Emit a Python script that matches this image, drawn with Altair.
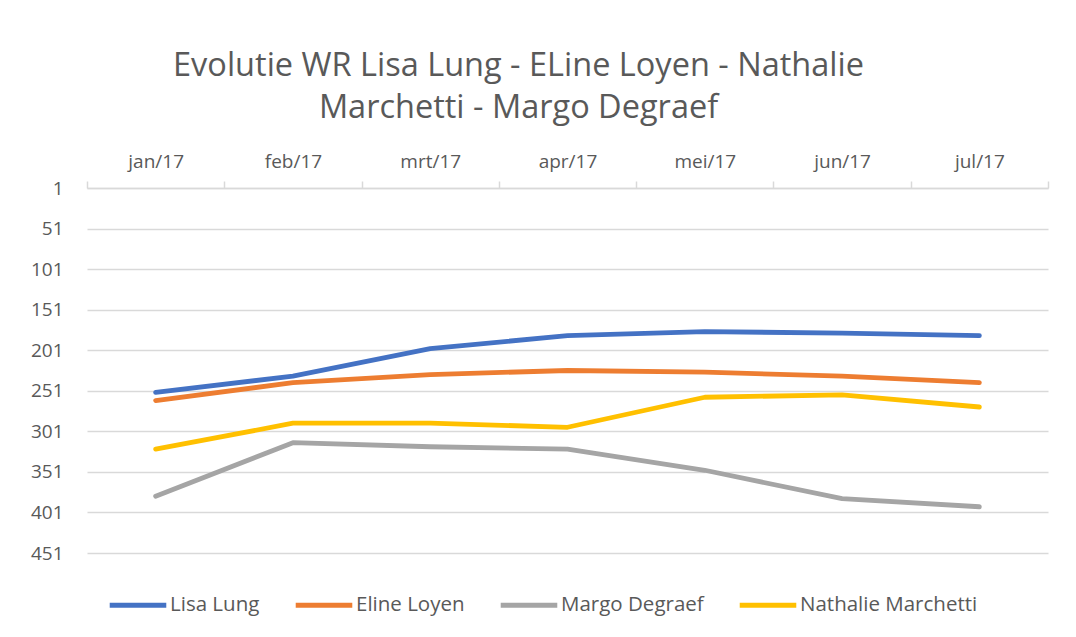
import altair as alt
import pandas as pd

months = ["jan/17", "feb/17", "mrt/17", "apr/17", "mei/17", "jun/17", "jul/17"]
series_names = ["Lisa Lung", "Eline Loyen", "Margo Degraef", "Nathalie Marchetti"]
lisa = [253, 233, 199, 183, 178, 180, 183]
eline = [263, 241, 231, 226, 228, 233, 241]
margo = [381, 315, 320, 323, 349, 384, 394]
nathalie = [323, 291, 291, 296, 259, 256, 271]
y_ticks = [1, 51, 101, 151, 201, 251, 301, 351, 401, 451]
colors = ["#4472C4", "#ED7D31", "#A5A5A5", "#FFC000"]

rows = []
for name, vals in zip(series_names, [lisa, eline, margo, nathalie]):
    for m, v in zip(months, vals):
        rows.append({"month": m, "rank": v, "series": name})
df = pd.DataFrame(rows)

FONT = "Open Sans"
GREY = "#595959"

chart = alt.Chart(df).mark_line(strokeWidth=4.8, strokeCap="round", strokeJoin="round").encode(
    x=alt.X("month:N", sort=months, bandPosition=0.5,
            scale=alt.Scale(type="band", domain=months, paddingInner=0, paddingOuter=0),
            axis=alt.Axis(orient="top", title=None, labelAngle=0, tickBand="extent",
                          ticks=True, tickSize=7, tickColor="#d9d9d9", tickWidth=1.5,
                          domain=True, domainColor="#d9d9d9", domainWidth=1.5,
                          labelPadding=10, labelFont=FONT, labelFontSize=19,
                          labelColor=GREY, grid=False)),
    y=alt.Y("rank:Q", scale=alt.Scale(domain=[1, 451], reverse=True, nice=False, zero=False),
            axis=alt.Axis(values=y_ticks, title=None, domain=False, ticks=False,
                          grid=True, gridColor="#d9d9d9", gridWidth=1.5,
                          labelPadding=24, labelFont=FONT, labelFontSize=19,
                          labelColor=GREY)),
    color=alt.Color("series:N", sort=series_names,
                    scale=alt.Scale(domain=series_names, range=colors),
                    legend=alt.Legend(orient="none", direction="horizontal", title=None,
                                      legendX=20, legendY=386, symbolType="stroke",
                                      symbolSize=3200, symbolStrokeWidth=5,
                                      labelFont=FONT, labelFontSize=20.5, labelColor=GREY,
                                      labelOffset=1, labelLimit=0, columnPadding=25,
                                      padding=0)),
).properties(
    width=961,
    height=365,
    padding={"left": 79, "top": 180, "right": 20, "bottom": 76},
    autosize=alt.AutoSizeParams(type="none"),
    background="white",
    title=alt.TitleParams(
        text=["Evolutie WR Lisa Lung - ELine Loyen - Nathalie", "Marchetti - Margo Degraef"],
        font=FONT, fontSize=32.5, fontWeight="normal", color=GREY,
        anchor="middle", dx=-49, lineHeight=42, offset=28,
    ),
).configure_view(stroke=None)

chart.save("out.html", embed_options={"renderer": "svg", "actions": False})
